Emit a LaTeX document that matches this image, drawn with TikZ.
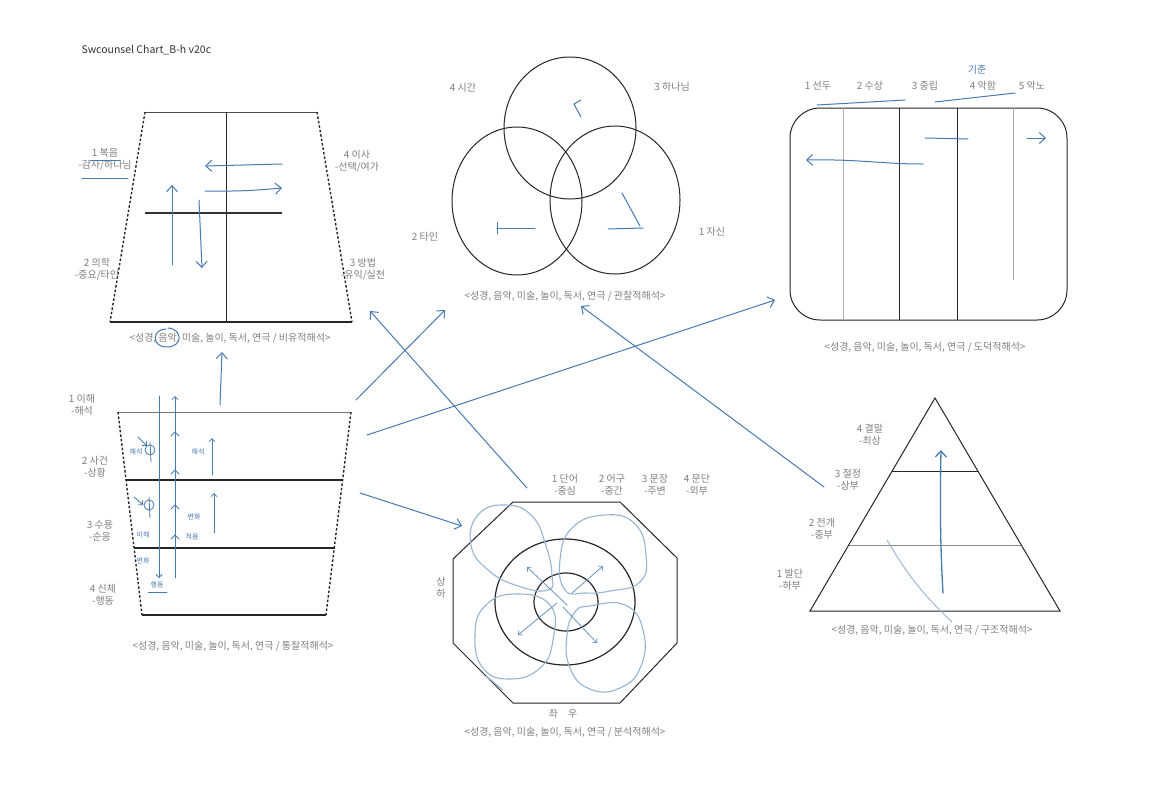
\documentclass[tikz,border=0pt]{standalone}
\usepackage{fontspec}
\setmainfont{Noto Sans CJK KR}
\usetikzlibrary{arrows.meta}
\definecolor{ink}{RGB}{72,122,178}
\definecolor{pale}{RGB}{150,180,212}
\definecolor{lblgray}{RGB}{128,128,128}
\tikzset{
	lbl/.style={text=lblgray, font=\fontsize{10}{12}\selectfont, align=center, inner sep=1pt},
	note/.style={text=ink, font=\fontsize{7}{8}\selectfont, inner sep=0.5pt},
	frame/.style={draw=black!85, line width=1pt},
	dashside/.style={draw=black!85, line width=1.4pt, dash pattern=on 2.5pt off 2pt},
	pen/.style={draw=ink, line width=1pt, line cap=round},
	penarrow/.style={pen, -{Straight Barb[length=6pt,width=11pt]}},
	tick/.style={pen, line width=0.8pt, -{Straight Barb[length=3pt,width=6pt]}},
}

\begin{document}
\begin{tikzpicture}[x=1pt, y=-1pt]
	\useasboundingbox (0,0) rectangle (1152,806);
	\fill[white] (0,0) rectangle (1152,806);

	\node[anchor=west, text=black!80, font=\fontsize{10.5}{12}\selectfont] (title) at (78,50) {Swcounsel Chart\_B-h v20c};

	% top left trapezoid
	\draw[line width=0.8pt, black!70] (145,112) -- (317,112);
	\draw[dashside] (145,112) -- (110,322);
	\draw[dashside] (317,112) -- (352,322);
	\draw[frame, line width=1.3pt] (110,322) -- (352,322);
	\draw[frame] (226,112) -- (226,322);
	\draw[line width=1.2pt, black!80] (145,213) -- (282,213);
	\draw[penarrow] (282,164) -- (205,166);
	\draw[penarrow] (205,191) to[bend right=3] (282,188);
	\draw[penarrow] (172,265) -- (172,185);
	\draw[penarrow] (199,200) -- (202,268);
	\node[lbl] (tl1) at (105,159) {1 복음\\-감사/하나님};
	\node[lbl] (tl2) at (97,269) {2 의학\\-중요/타인};
	\node[lbl] (tl4) at (357,161) {4 이사\\-선택/여가};
	\node[lbl] (tl3) at (363,269) {3 방법\\-유익/실천};
	\draw[pen] (90,160) -- (120,160);
	\draw[pen] (82,178) -- (128,178);
	\node[lbl] (tlcap) at (230,338) {<성경, 음악, 미술, 놀이, 독서, 연극 / 비유적해석>};
	\draw[pen] (166,329) .. controls (152,329) and (151,347) .. (167,347) .. controls (183,347) and (183,329) .. (168,328);
	\coordinate (tlin) at (222,352);
	\coordinate (tlback) at (370,311);

	% three circles
	\draw[frame] (570,128) ellipse [x radius=66pt, y radius=71pt];
	\draw[frame] (517,201) ellipse [x radius=65pt, y radius=74pt];
	\draw[frame] (615,200) ellipse [x radius=65pt, y radius=74pt];
	\node[lbl] (c4) at (463,88) {4 시간};
	\node[lbl] (c3) at (672,87) {3 하나님};
	\node[lbl] (c2) at (425,237) {2 타인};
	\node[lbl] (c1) at (712,232) {1 자신};
	\draw[pen] (581,117) -- (574,104) -- (581,100);
	\draw[pen] (535,228) -- (497,228);
	\draw[pen] (497,222) -- (497,234);
	\draw[pen] (622,193) -- (640,226);
	\draw[pen] (608,229) -- (643,228);
	\node[lbl] (ccap) at (565,296) {<성경, 음악, 미술, 놀이, 독서, 연극 / 관찰적해석>};
	\coordinate (cin1) at (445,310);
	\coordinate (cin2) at (581,306);

	% rounded rectangle with columns
	\draw[frame, rounded corners=30pt] (790,108) rectangle (1067,320);
	\draw[black!30, line width=0.8pt] (843,108) -- (843,320);
	\draw[frame] (899,108) -- (899,320);
	\draw[frame] (957,108) -- (957,320);
	\draw[black!35, line width=0.8pt] (1013,108) -- (1013,280);
	\foreach \x/\t [count=\i] in {818/1 선두, 870/2 수상, 925/3 중립, 983/4 악함, 1032/5 악노} {
		\node[lbl] (r\i) at (\x,86) {\t};
	}
	\node[text=ink, font=\fontsize{10}{12}\selectfont] (rnote) at (977,70) {기준};
	\draw[pen] (817,105) -- (905,100);
	\draw[pen] (935,102) -- (1015,93);
	\draw[penarrow] (923,164) .. controls (880,164) and (860,159) .. (806,160);
	\draw[pen] (925,138) -- (968,139);
	\draw[penarrow] (1027,138) -- (1046,138);
	\node[lbl] (rcap) at (925,347) {<성경, 음악, 미술, 놀이, 독서, 연극 / 도덕적해석>};
	\coordinate (rin) at (775,300);

	% bottom left trapezoid
	\draw[line width=0.8pt, black!55] (118,412) -- (351,412);
	\draw[dashside] (118,412) -- (142,615);
	\draw[dashside] (351,412) -- (326,615);
	\draw[frame, line width=1.3pt] (142,615) -- (326,615);
	\draw[frame, line width=1.5pt] (126,480) -- (343,480);
	\draw[frame, line width=1.5pt] (134,548) -- (335,548);
	\draw[tick] (159,396) -- (159,578);
	\draw[tick] (175,578) -- (175,396);
	\foreach \y in {432,470,505,535} {
		\draw[pen, line width=0.8pt] (171,\y+4) -- (175,\y) -- (179,\y+4);
	}
	\draw[tick] (212,475) -- (212,438);
	\draw[tick] (214,533) -- (214,493);
	\draw[pen, line width=0.8pt] (150,450) circle [radius=5pt];
	\draw[pen, line width=0.8pt] (150,442) -- (151,462);
	\draw[pen, line width=0.8pt] (149,505) circle [radius=5pt];
	\draw[pen, line width=0.8pt] (149,497) -- (150,518);
	\draw[tick] (138,437) -- (147,446);
	\draw[tick] (134,497) -- (143,505);
	\node[note] (h1) at (136,452) {해석};
	\node[note] (h2) at (198,452) {해석};
	\node[note] (h3) at (194,517) {변화};
	\node[note] (h4) at (192,537) {적용};
	\node[note] (h5) at (143,535) {이해};
	\node[note] (h6) at (143,561) {변화};
	\node[note] (h7) at (157,585) {행동};
	\draw[pen, line width=0.8pt] (148,592) -- (167,592);
	\node[lbl] (bl1) at (82,405) {1 이해\\-해석};
	\node[lbl] (bl2) at (95,467) {2 사건\\-상황};
	\node[lbl] (bl3) at (100,531) {3 수용\\-순응};
	\node[lbl] (bl4) at (103,595) {4 신체\\-행동};
	\node[lbl] (blcap) at (233,646) {<성경, 음악, 미술, 놀이, 독서, 연극 / 통찰적해석>};
	\coordinate (blout0) at (220,405);
	\coordinate (blout1) at (356,400);
	\coordinate (blout2) at (367,435);
	\coordinate (blout3) at (360,493);

	% octagon
	\draw[frame] (513,502) -- (620,502) -- (677,558) -- (677,643) -- (620,703)
		-- (513,703) -- (453,643) -- (453,559) -- cycle;
	\draw[frame, line width=1.2pt] (565,602) ellipse [x radius=70pt, y radius=63pt];
	\draw[frame, line width=1.2pt] (566,602) ellipse [x radius=32pt, y radius=29pt];
	\draw[draw=pale, line width=1.1pt] plot[smooth cycle, tension=0.8] coordinates
		{(548,590) (518,586) (488,570) (471,545) (478,515) (505,505) (532,516) (546,546) (552,575)};
	\draw[draw=pale, line width=1.1pt] plot[smooth cycle, tension=0.8] coordinates
		{(565,590) (560,560) (572,528) (605,515) (635,524) (646,555) (640,582) (610,591) (585,593)};
	\draw[draw=pale, line width=1.1pt] plot[smooth cycle, tension=0.8] coordinates
		{(550,605) (553,640) (540,668) (510,679) (483,668) (475,635) (485,606) (515,594)};
	\draw[draw=pale, line width=1.1pt] plot[smooth cycle, tension=0.8] coordinates
		{(590,606) (625,605) (643,630) (641,666) (620,688) (590,689) (570,668) (567,635) (575,612)};
	\draw[draw=pale, line width=1.1pt] (486,676) -- (503,690);
	\draw[tick, draw=ink!80] (567,605) -- (527,567);
	\draw[tick, draw=ink!80] (572,593) -- (603,566);
	\draw[tick, draw=ink!80] (557,603) -- (518,635);
	\draw[tick, draw=ink!80] (563,607) -- (597,643);
	\foreach \x/\t [count=\i] in {565/1 단어\\-중심, 612/2 어구\\-중간, 655/3 문장\\-주변, 697/4 문단\\-외부} {
		\node[lbl] (o\i) at (\x,485) {\t};
	}
	\node[lbl] (oside) at (441,588) {상\\하};
	\node[lbl] (obot) at (563,714) {좌\quad 우};
	\node[lbl] (ocap) at (565,732) {<성경, 음악, 미술, 놀이, 독서, 연극 / 분석적해석>};
	\coordinate (oin) at (462,526);
	\coordinate (oout) at (527,488);

	% triangle
	\draw[frame] (935,398) -- (1060,611) -- (810,611) -- cycle;
	\draw[frame] (892,471) -- (978,471);
	\draw[black!45, line width=1pt] (849,545) -- (1021,545);
	\draw[pale, line width=0.9pt] (887,540) to[bend right=8] (952,622);
	\draw[penarrow, line width=1.3pt] (943,593) .. controls (940,540) and (940,500) .. (941,450);
	\node[lbl] (t4) at (870,435) {4 결말\\-최상};
	\node[lbl] (t3) at (848,480) {3 절정\\-상부};
	\node[lbl] (t2) at (822,529) {2 전개\\-중부};
	\node[lbl] (t1) at (790,580) {1 발단\\-하부};
	\node[lbl] (tcap) at (932,630) {<성경, 음악, 미술, 놀이, 독서, 연극 / 구조적해석>};
	\coordinate (tout) at (824,487);

	% connectors
	\draw[penarrow] (blout0) -- (tlin);
	\draw[penarrow] (blout1) -- (cin1);
	\draw[penarrow] (blout2) -- (rin);
	\draw[penarrow] (blout3) -- (oin);
	\draw[penarrow] (oout) -- (tlback);
	\draw[penarrow] (tout) -- (cin2);
\end{tikzpicture}
\end{document}
